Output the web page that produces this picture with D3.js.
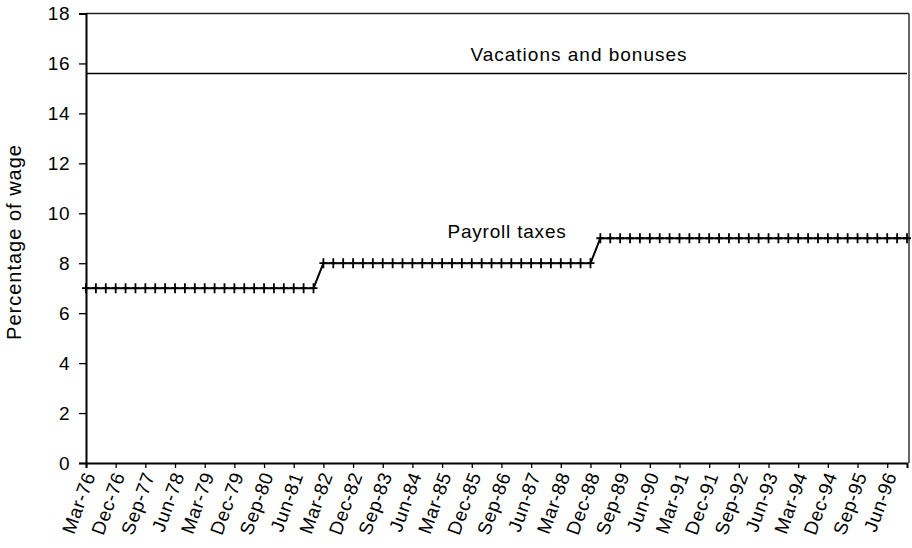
<!DOCTYPE html>
<html>
<head>
<meta charset="utf-8">
<script src="https://cdn.jsdelivr.net/npm/d3@7"></script>
<style>
    body { margin: 0; background: white; }
    text { font-family: "Liberation Sans", Arial, sans-serif; fill: black; }
</style>
</head>
<body>
<div id="chart"></div>
<script>
// quarterly categories, Mar-76 .. Dec-96
var years = ["76", "77", "78", "79", "80", "81", "82", "83", "84", "85", "86",
    "87", "88", "89", "90", "91", "92", "93", "94", "95", "96"];
var months = ["Mar", "Jun", "Sep", "Dec"];

// payroll taxes, % of wage (one row per year, 4 quarters)
var payrollTaxes = [
    7, 7, 7, 7,   // 76
    7, 7, 7, 7,   // 77
    7, 7, 7, 7,   // 78
    7, 7, 7, 7,   // 79
    7, 7, 7, 7,   // 80
    7, 7, 7, 7,   // 81
    8, 8, 8, 8,   // 82
    8, 8, 8, 8,   // 83
    8, 8, 8, 8,   // 84
    8, 8, 8, 8,   // 85
    8, 8, 8, 8,   // 86
    8, 8, 8, 8,   // 87
    8, 8, 8, 8,   // 88
    9, 9, 9, 9,   // 89
    9, 9, 9, 9,   // 90
    9, 9, 9, 9,   // 91
    9, 9, 9, 9,   // 92
    9, 9, 9, 9,   // 93
    9, 9, 9, 9,   // 94
    9, 9, 9, 9,   // 95
    9, 9, 9, 9    // 96
];

// vacations and bonuses, % of wage
var vacationsBonuses = [
    15.6, 15.6, 15.6, 15.6,  15.6, 15.6, 15.6, 15.6,  15.6, 15.6, 15.6, 15.6,
    15.6, 15.6, 15.6, 15.6,  15.6, 15.6, 15.6, 15.6,  15.6, 15.6, 15.6, 15.6,
    15.6, 15.6, 15.6, 15.6,  15.6, 15.6, 15.6, 15.6,  15.6, 15.6, 15.6, 15.6,
    15.6, 15.6, 15.6, 15.6,  15.6, 15.6, 15.6, 15.6,  15.6, 15.6, 15.6, 15.6,
    15.6, 15.6, 15.6, 15.6,  15.6, 15.6, 15.6, 15.6,  15.6, 15.6, 15.6, 15.6,
    15.6, 15.6, 15.6, 15.6,  15.6, 15.6, 15.6, 15.6,  15.6, 15.6, 15.6, 15.6,
    15.6, 15.6, 15.6, 15.6,  15.6, 15.6, 15.6, 15.6,  15.6, 15.6, 15.6, 15.6
];

var yTicks = [0, 2, 4, 6, 8, 10, 12, 14, 16, 18];

var quarters = [];
for (var i = 0; i < years.length; i++) {
    for (var j = 0; j < months.length; j++) {
        quarters.push(months[j] + "-" + years[i]);
    }
}
// a label on every third quarter
var xTickLabels = quarters.filter(function(d, i) { return i % 3 === 0; });

// SVG drawing area
var margin = {top: 13.5, right: 3, bottom: 85, left: 86};
var width = 912 - margin.left - margin.right;
var height = 548 - margin.top - margin.bottom;

var svg = d3.select("#chart").append("svg")
    .attr("width", 912)
    .attr("height", 548)
    .append("g")
    .attr("transform", "translate(" + margin.left + "," + margin.top + ")");

var x = d3.scalePoint()
    .domain(quarters)
    .range([0, width - 2]);

var y = d3.scaleLinear()
    .domain([0, 18])
    .range([height, 0]);

// frame: top and right edges of the plot area
svg.append("line")
    .attr("x1", 0).attr("x2", width)
    .attr("y1", y(18)).attr("y2", y(18))
    .style("stroke", "#222")
    .style("stroke-width", 1.3);
svg.append("line")
    .attr("x1", width).attr("x2", width)
    .attr("y1", 0).attr("y2", height)
    .style("stroke", "#333")
    .style("stroke-width", 1.5);

// axes
var yAxis = d3.axisLeft(y)
    .tickValues(yTicks)
    .tickSize(7)
    .tickPadding(9);
var gy = svg.append("g").call(yAxis);
gy.selectAll("text")
    .style("font-size", "19px")
    .style("letter-spacing", "0.5px");

var xAxis = d3.axisBottom(x)
    .tickValues(xTickLabels)
    .tickSize(5)
    .tickFormat("");
var gx = svg.append("g")
    .attr("transform", "translate(0," + height + ")")
    .call(xAxis);

gx.selectAll(".tick").append("text")
    .attr("transform", "translate(3,10) rotate(-70)")
    .attr("dy", "0.35em")
    .style("text-anchor", "end")
    .style("font-size", "19px")
    .style("letter-spacing", "0.6px")
    .text(function(d) { return d; });

svg.selectAll(".domain")
    .style("stroke", "black")
    .style("stroke-width", 2);
svg.selectAll(".tick line")
    .style("stroke", "black")
    .style("stroke-width", 1.3);

// series lines
var line = d3.line()
    .x(function(d, i) { return x(quarters[i]); })
    .y(function(d) { return y(d); });

svg.append("path")
    .datum(vacationsBonuses)
    .attr("d", line)
    .style("fill", "none")
    .style("stroke", "black")
    .style("stroke-width", 1.4);

svg.append("path")
    .datum(payrollTaxes)
    .attr("d", line)
    .style("fill", "none")
    .style("stroke", "black")
    .style("stroke-width", 2);

// "+" markers on payroll taxes
svg.selectAll(".marker")
    .data(payrollTaxes)
    .enter()
    .append("path")
    .attr("class", "marker")
    .attr("transform", function(d, i) {
        return "translate(" + x(quarters[i]) + "," + y(d) + ")";
    })
    .attr("d", "M0,-5V5M-4,0H4")
    .style("stroke", "black")
    .style("stroke-width", 1.8)
    .style("fill", "none");

// series labels
svg.append("text")
    .attr("x", 579 - margin.left)
    .attr("y", 61 - margin.top)
    .style("text-anchor", "middle")
    .style("font-size", "19px")
    .style("letter-spacing", "1px")
    .text("Vacations and bonuses");

svg.append("text")
    .attr("x", 507 - margin.left)
    .attr("y", 238 - margin.top)
    .style("text-anchor", "middle")
    .style("font-size", "19px")
    .style("letter-spacing", "0.8px")
    .text("Payroll taxes");

// y axis title
svg.append("text")
    .attr("transform", "translate(" + (21 - margin.left) + "," + (242 - margin.top) + ") rotate(-90)")
    .style("text-anchor", "middle")
    .style("font-size", "20px")
    .style("letter-spacing", "1px")
    .text("Percentage of wage");
</script>
</body>
</html>
